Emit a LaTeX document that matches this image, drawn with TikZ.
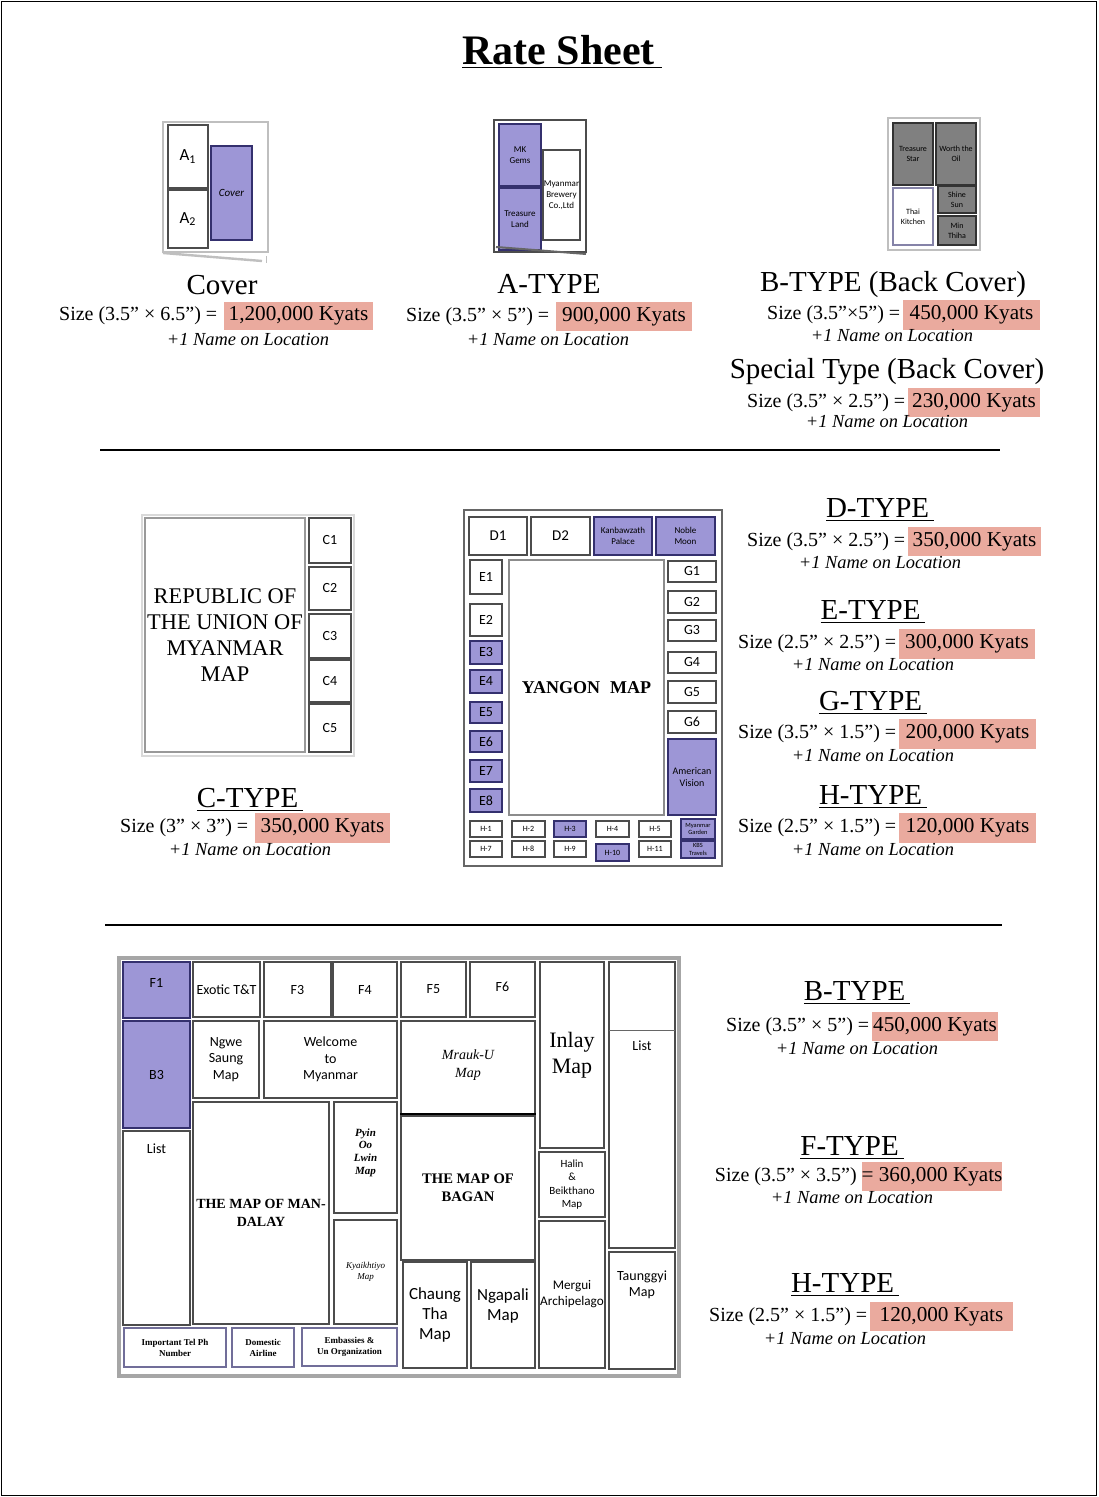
\documentclass[tikz,border=0pt]{standalone}
\usepackage{fontspec}
\setmainfont{Liberation Serif}
\newfontfamily\carlito{Carlito}
\usetikzlibrary{positioning}

\definecolor{mappurple}{RGB}{157,150,214}
\definecolor{mapnavy}{RGB}{52,48,110}
\definecolor{pricebg}{RGB}{234,170,158}
\definecolor{adgray}{RGB}{128,128,128}

\begin{document}
\begin{tikzpicture}[x=0.5pt,y=-0.5pt,
  cell/.style args={#1/#2/#3/#4}{at={({(#1+#3)/2},{(#2+#4)/2})},
    minimum width={(#3-#1)*0.5pt},minimum height={(#4-#2)*0.5pt},inner sep=0pt},
  sans/.style 2 args={font=\carlito\fontsize{#1}{#2}\selectfont},
  serif/.style 2 args={font=\fontsize{#1}{#2}\selectfont},
  box/.style={draw=black!70,line width=0.6pt,fill=white,align=center,sans={7}{8.2}},
  pbox/.style={box,fill=mappurple,draw=mapnavy},
  gbox/.style={box,fill=adgray,draw=black!80},
  frame/.style={draw=black!25,line width=1.2pt},
  head/.style={serif={14.5}{16},inner sep=0pt},
  sizetxt/.style={serif={10}{12},inner sep=0pt,anchor=base east},
  price/.style={fill=pricebg,serif={10.6}{12}},
  note/.style={font=\itshape\fontsize{9.2}{10}\selectfont,inner sep=0pt},
  rule/.style={line width=1.2pt}]

\useasboundingbox (0,0) rectangle (1098,1497);
\draw[line width=0.8pt] (1.5,1.5) rectangle (1096.5,1495.5);

\node[font=\bfseries\fontsize{21}{24}\selectfont] (title) at (562,52) {\underline{Rate Sheet\,}};

% top row: cover, A-type, B-type
\node[frame,cell=163/122/268/252] (cvFrame) {};
\draw[black!25,line width=1.2pt] (163,253) -- (262,261);
\draw[black!25] (266,256) -- (266,263);
\node[box,sans={8.5}{9},cell=168/125/208/188] (cvA1) {A\textsubscript{1}};
\node[box,sans={8.5}{9},cell=168/190/208/248] (cvA2) {A\textsubscript{2}};
\node[pbox,font=\carlito\itshape\fontsize{5.5}{6.5}\selectfont,cell=211/146/252/240] (cvBox) {Cover};

\node[head] (cvHead) at (222,285) {Cover};
\node[price,cell=224/302/373/330] (cvPrice) {1,200,000 Kyats};
\node[sizetxt] (cvSize) at ([xshift=-3pt]cvPrice.base west) {Size (3.5" × 6.5") =};
\node[note] (cvNote) at (248,340) {+1 Name on Location};

\node[frame,draw=black!70,line width=1.4pt,cell=494/120/586/252] (atFrame) {};
\node[pbox,sans={4.5}{5.5},cell=499/124/541/186] (atGems) {MK\\Gems};
\node[pbox,sans={4.5}{5.5},cell=499/188/541/250] (atLand) {Treasure\\Land};
\node[box,sans={4.5}{5.5},cell=543/150/580/240] (atBrew) {Myanmar\\Brewery\\Co.,Ltd};
\draw[black!60,line width=1pt] (496,247) -- (586,254);

\node[head] (atHead) at (549,284) {A-TYPE};
\node[price,cell=556/302/692/331] (atPrice) {900,000 Kyats};
\node[sizetxt] (atSize) at ([xshift=-3pt]atPrice.base west) {Size (3.5" × 5") =};
\node[note] (atNote) at (548,340) {+1 Name on Location};

\node[frame,cell=888/118/980/250] (btFrame) {};
\node[gbox,sans={4}{5},cell=893/123/933/185] (btStar) {Treasure\\Star};
\node[gbox,sans={4}{5},cell=936/123/976/185] (btOil) {Worth the\\Oil};
\node[box,draw=mapnavy!60,sans={4}{5},cell=893/188/933/245] (btKitchen) {Thai\\Kitchen};
\node[gbox,sans={4}{5},cell=938/186/976/213] (btSun) {Shine\\Sun};
\node[gbox,sans={4}{5},cell=938/216/976/245] (btThiha) {Min\\Thiha};

\node[head] (btHead) at (893,285) {B-TYPE (Back Cover)};
\node[price,cell=903/300/1040/330] (btPrice) {450,000 Kyats};
\node[sizetxt] (btSize) at ([xshift=-1pt]btPrice.base west) {Size (3.5"×5") =};
\node[note] (btNote) at (892,336) {+1 Name on Location};

\node[head] (spHead) at (887,372) {Special Type (Back Cover)};
\node[price,cell=908/388/1040/417] (spPrice) {230,000 Kyats};
\node[sizetxt] (spSize) at ([xshift=-1pt]spPrice.base west) {Size (3.5" × 2.5") =};
\node[note] (spNote) at (887,422) {+1 Name on Location};

\draw[rule] (100,450) -- (1000,450);

% middle row: C-type map and Yangon map
\node[frame,draw=black!15,cell=142/515/354/756] (unFrame) {};
\node[box,draw=black!40,line width=1.4pt,serif={11.2}{13},cell=145/518/305/752] (unMap) {REPUBLIC OF\\THE UNION OF\\MYANMAR\\MAP};
\node[box,cell=309/518/351/563] (c1) {C1};
\node[box,cell=309/567/351/610] (c2) {C2};
\node[box,cell=309/614/351/658] (c3) {C3};
\node[box,cell=309/660/351/702] (c4) {C4};
\node[box,cell=309/704/351/752] (c5) {C5};

\node[head] (ctHead) at (250,800) {\underline{C-TYPE\,}};
\node[price,cell=255/813/390/843] (ctPrice) {350,000 Kyats};
\node[sizetxt] (ctSize) at ([xshift=-3pt]ctPrice.base west) {Size (3" × 3") =};
\node[note] (ctNote) at (250,849) {+1 Name on Location};

\node[frame,draw=black!60,line width=1pt,cell=464/510/722/866] (ygFrame) {};
\node[box,sans={7.5}{9},cell=469/517/527/555] (d1) {D1};
\node[box,sans={7.5}{9},cell=531/517/590/555] (d2) {D2};
\node[pbox,sans={4.5}{5.5},cell=594/517/652/555] (kanbawza) {Kanbawzath\\Palace};
\node[pbox,sans={4.5}{5.5},cell=656/517/715/555] (nobleMoon) {Noble\\Moon};
\node[box,draw=black!45,line width=1.2pt,font=\bfseries\fontsize{9}{10}\selectfont,cell=509/560/664/815] (ygMap) {YANGON\hspace{5pt}MAP};

\node[box,cell=470/560/502/594] (e1) {E1};
\node[box,cell=470/604/502/636] (e2) {E2};
\node[pbox,cell=470/641/502/664] (e3) {E3};
\node[pbox,cell=470/670/502/693] (e4) {E4};
\node[pbox,cell=470/702/502/723] (e5) {E5};
\node[pbox,cell=470/731/502/752] (e6) {E6};
\node[pbox,cell=470/760/502/782] (e7) {E7};
\node[pbox,cell=470/789/502/812] (e8) {E8};

\node[box,cell=668/561/716/582] (g1) {G1};
\node[box,cell=668/591/716/613] (g2) {G2};
\node[box,cell=668/620/716/641] (g3) {G3};
\node[box,cell=668/652/716/673] (g4) {G4};
\node[box,cell=668/681/716/703] (g5) {G5};
\node[box,cell=668/711/716/733] (g6) {G6};
\node[pbox,sans={5}{6},cell=668/739/716/815] (amVision) {American\\Vision};

\node[box,sans={4}{5},cell=470/821/502/837] (h1) {H-1};
\node[box,sans={4}{5},cell=512/821/545/837] (h2) {H-2};
\node[pbox,sans={4}{5},cell=554/821/586/837] (h3) {H-3};
\node[box,sans={4}{5},cell=596/821/629/837] (h4) {H-4};
\node[box,sans={4}{5},cell=639/821/671/837] (h5) {H-5};
\node[pbox,sans={3.2}{3.6},cell=681/819/715/839] (myGarden) {Myanmar\\Garden};
\node[box,sans={4}{5},cell=470/841/502/857] (h7) {H-7};
\node[box,sans={4}{5},cell=512/841/545/857] (h8) {H-8};
\node[box,sans={4}{5},cell=554/841/586/857] (h9) {H-9};
\node[pbox,sans={4}{5},cell=596/844/629/861] (h10) {H-10};
\node[box,sans={4}{5},cell=639/841/671/857] (h11) {H-11};
\node[pbox,sans={3.2}{3.6},cell=681/841/715/858] (kbsTravel) {KBS\\Travels};

\node[head] (dtHead) at (880,510) {\underline{D-TYPE\,}};
\node[price,cell=908/527/1041/556] (dtPrice) {350,000 Kyats};
\node[sizetxt] (dtSize) at ([xshift=-1pt]dtPrice.base west) {Size (3.5" × 2.5") =};
\node[note] (dtNote) at (880,563) {+1 Name on Location};

\node[head] (etHead) at (873,612) {\underline{E-TYPE\,}};
\node[price,cell=899/629/1035/659] (etPrice) {300,000 Kyats};
\node[sizetxt] (etSize) at ([xshift=-1pt]etPrice.base west) {Size (2.5" × 2.5") =};
\node[note] (etNote) at (873,664) {+1 Name on Location};

\node[head] (gtHead) at (873,703) {\underline{G-TYPE\,}};
\node[price,cell=899/719/1036/749] (gtPrice) {200,000 Kyats};
\node[sizetxt] (gtSize) at ([xshift=-1pt]gtPrice.base west) {Size (3.5" × 1.5") =};
\node[note] (gtNote) at (873,755) {+1 Name on Location};

\node[head] (htHead) at (873,797) {\underline{H-TYPE\,}};
\node[price,cell=899/813/1036/843] (htPrice) {120,000 Kyats};
\node[sizetxt] (htSize) at ([xshift=-1pt]htPrice.base west) {Size (2.5" × 1.5") =};
\node[note] (htNote) at (873,849) {+1 Name on Location};

\draw[rule] (105,925) -- (1002,925);

% bottom row: tourist map
\node[frame,draw=black!35,line width=1.6pt,cell=119/958/679/1376] (tmFrame) {};
\node[pbox,cell=123/962/190/1018] (f1) {};
\node[sans={7}{8},below=5pt of f1.north] (f1Txt) {F1};
\node[pbox,cell=123/1021/190/1128] (b3) {B3};
\node[box,cell=123/1131/190/1325] (listL) {};
\node[sans={7}{8},below=3pt of listL.north] (listLTxt) {List};
\node[box,cell=193/962/260/1017] (exotic) {Exotic T\&T};
\node[box,cell=264/962/331/1017] (f3) {F3};
\node[box,cell=333/962/397/1017] (f4) {F4};
\node[box,cell=401/962/466/1017] (f5) {F5};
\node[box,cell=470/962/535/1017] (f6) {};
\node[sans={7}{8},below=7pt of f6.north] (f6Txt) {F6};
\node[box,cell=193/1021/259/1098] (ngwe) {Ngwe\\Saung\\Map};
\node[box,cell=264/1021/397/1098] (welcome) {Welcome\\to\\Myanmar};
\node[box,font=\bfseries\fontsize{7}{9}\selectfont,cell=193/1102/329/1324] (mandalay) {THE MAP OF MAN-\\DALAY};
\node[box,cell=334/1102/397/1213] (pyin) {};
\node[font=\bfseries\itshape\fontsize{5.5}{6.4}\selectfont,align=center,below=10pt of pyin.north] (pyinTxt) {Pyin\\Oo\\Lwin\\Map};
\node[box,font=\itshape\fontsize{4.5}{5.5}\selectfont,cell=334/1220/397/1324] (kyaik) {Kyaikhtiyo\\Map};
\node[box,draw=mapnavy!70,font=\bfseries\fontsize{4.5}{5.5}\selectfont,cell=124/1328/226/1367] (telNo) {Important Tel Ph\\Number};
\node[box,draw=mapnavy!70,font=\bfseries\fontsize{4.5}{5.5}\selectfont,cell=232/1328/294/1367] (airline) {Domestic\\Airline};
\node[box,draw=mapnavy!70,font=\bfseries\fontsize{4.5}{5.5}\selectfont,cell=302/1328/397/1366] (embassy) {Embassies \&\\Un Organization};
\node[box,cell=401/1021/535/1114] (mrauk) {};
\node[font=\itshape\fontsize{7}{9}\selectfont,align=center,below=11pt of mrauk.north] (mraukTxt) {Mrauk-U\\Map};
\draw[line width=1.4pt] (mrauk.south west) -- (mrauk.south east);
\node[box,font=\bfseries\fontsize{7.3}{9}\selectfont,cell=401/1116/535/1260] (bagan) {THE MAP OF\\BAGAN};
\node[box,sans={8.5}{10},cell=403/1262/467/1368] (chaung) {Chaung\\Tha\\Map};
\node[box,cell=471/1262/535/1368] (ngapali) {};
\node[sans={8.5}{10},align=center,below=10pt of ngapali.north] (ngapaliTxt) {Ngapali\\Map};
\node[box,serif={11}{13},cell=540/962/604/1148] (inlay) {Inlay\\Map};
\node[box,line width=0.9pt,sans={5.5}{6.8},cell=539/1152/605/1217] (halin) {Halin\\\&\\Beikthano\\Map};
\node[box,sans={6.6}{8},cell=539/1221/605/1368] (mergui) {Mergui\\Archipelago};
\node[box,cell=609/962/675/1248] (listR) {};
\draw[black!60] (609,1030) -- (675,1030);
\node[sans={7}{8},below=36pt of listR.north] (listRTxt) {List};
\node[box,cell=609/1252/675/1369] (taunggyi) {};
\node[sans={7}{8},align=center,below=6pt of taunggyi.north] (taunggyiTxt) {Taunggyi\\Map};

\node[head] (bbHead) at (857,993) {\underline{B-TYPE\,}};
\node[price,cell=872/1012/998/1041] (bbPrice) {450,000 Kyats};
\node[sizetxt] (bbSize) at ([xshift=-1pt]bbPrice.base west) {Size (3.5" × 5") =};
\node[note] (bbNote) at (857,1048) {+1 Name on Location};

\node[head] (ftHead) at (852,1148) {\underline{F-TYPE\,}};
\node[price,cell=862/1162/1002/1191] (ftPrice) {= 360,000 Kyats};
\node[sizetxt] (ftSize) at ([xshift=-2pt]ftPrice.base west) {Size (3.5" × 3.5")};
\node[note] (ftNote) at (852,1197) {+1 Name on Location};

\node[head] (hbHead) at (845,1285) {\underline{H-TYPE\,}};
\node[price,cell=870/1302/1013/1331] (hbPrice) {120,000 Kyats};
\node[sizetxt] (hbSize) at ([xshift=-1pt]hbPrice.base west) {Size (2.5" × 1.5") =};
\node[note] (hbNote) at (845,1338) {+1 Name on Location};

\end{tikzpicture}
\end{document}
